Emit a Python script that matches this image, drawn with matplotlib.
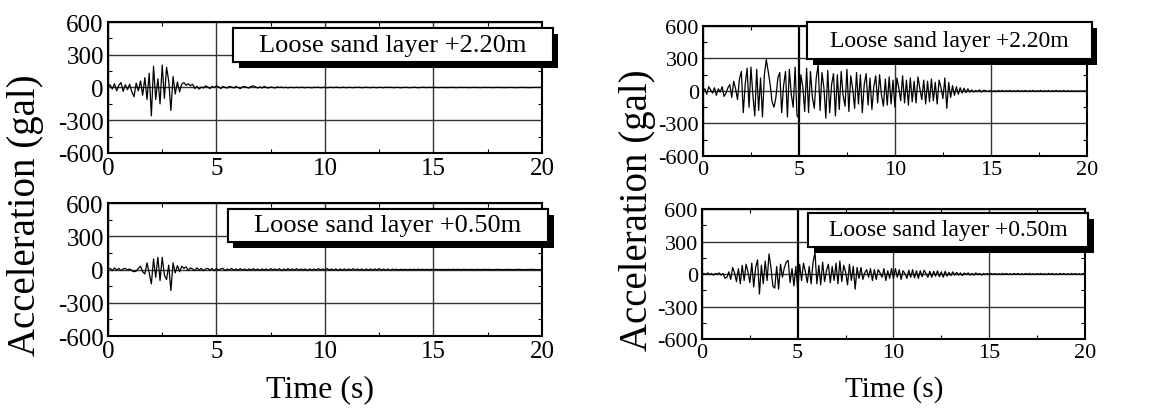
import numpy as np
import matplotlib
matplotlib.use("Agg")
import matplotlib.pyplot as plt
from matplotlib.patches import Rectangle
import matplotlib.patheffects as pe

plt.rcParams['font.family'] = ['Liberation Serif', 'DejaVu Serif']
plt.rcParams['axes.unicode_minus'] = False

# acceleration records, sampled every 0.1 s from 0 to 20 s (gal)
dt = 0.1

# left column, loose sand layer +2.20m
acc_left_top = [
    0, 25, -15, 35, -30, 20, 45, -35, 25, -20,
    30, -40, -85, 40, -30, 60, -70, 90, -110, 130,
    -260, 195, -110, 80, -150, 205, -100, 185, 60, -210,
    100, -60, 50, -40, 30, 45, 20, 35, 15, 30,
    -10, 10, -15, 5, -5, 15, 5, -10, 10, 0,
    15, 5, -10, 10, 0, -5, 10, 5, -5, 10,
    0, -10, 5, 10, 0, -5, 10, 15, 5, -5,
    5, -5, 10, 0, -5, 5, 0, -5, 5, 0,
    3, -2, 2, -3, 2, 0, -2, 3, -2, 2,
    0, -2, 2, 0, -3, 2, 0, 2, -2, 0,
    2, -2, 0, 2, -2, 3, 0, -2, 2, 0,
    -2, 2, 0, -2, 2, 0, 2, -2, 0, 2,
    0, -2, 2, 0, -2, 2, 0, -2, 2, 0,
    2, 0, -2, 2, 0, -2, 0, 2, 0, -2,
    0, 2, 0, -2, 0, 2, 0, -1, 1, 0,
    0, 1, -1, 0, 1, 0, -1, 0, 1, 0,
    0, -1, 1, 0, 0, 1, -1, 0, 0, 1,
    0, 0, -1, 1, 0, 0, 1, -1, 0, 0,
    1, 0, 0, -1, 0, 1, 0, 0, -1, 0,
    0, 1, 0, 0, -1, 0, 0, 1, 0, 0,
    0,
]

# left column, loose sand layer +0.50m
acc_left_bot = [
    0, 10, -10, 15, -5, 10, -10, 5, 10, -5,
    5, -10, -20, -15, 10, 30, -20, -40, 60, -30,
    -130, 95, -70, 110, -100, 110, -50, -90, 40, -190,
    60, -30, 35, -20, 30, 10, 25, -10, 15, 5,
    -10, 15, -5, 10, -10, 5, 10, -5, 10, -10,
    10, -5, 5, 10, -10, 5, -5, 10, -5, 5,
    -5, 8, -5, 5, -8, 5, -5, 8, -5, 5,
    -8, 5, -5, 5, -8, 8, -5, 5, -5, 8,
    -10, 5, -5, 8, -5, 5, -5, 8, -5, 5,
    -5, 5, -8, 5, -5, 5, -5, 8, -5, 5,
    -5, 8, -5, 5, -5, 5, -8, 5, -5, 5,
    -5, 5, -5, 8, -5, 5, -5, 5, -8, 5,
    -5, 5, -5, 5, -5, 8, -5, 5, -5, 5,
    -8, 3, -2, 2, -3, 2, -2, 2, -3, 2,
    -2, 2, -2, 3, -2, 2, -2, 2, -2, 2,
    -1, 1, -1, 1, -1, 1, -1, 1, -1, 1,
    -1, 1, 0, -1, 1, 0, -1, 1, 0, -1,
    1, 0, -1, 1, 0, 0, 1, -1, 0, 0,
    1, 0, -1, 0, 1, 0, 0, -1, 0, 1,
    0, 0, -1, 0, 0, 1, 0, 0, -1, 0,
    0,
]

# right column, loose sand layer +2.20m
acc_right_top = [
    0, 20, -30, 40, 10, -20, 30, -40, 20, -10,
    40, -50, -20, 30, 60, -60, 90, 20, -80, 110,
    180, -200, 60, 210, -150, 220, -40, -230, 200, -180,
    120, -240, 150, 290, 180, 60, -100, -150, -60, 120,
    170, -200, 50, 180, -240, 200, -30, -150, 220, -230,
    -250, 150, 40, -190, 210, -200, 180, -60, -160, 120,
    240, -180, 170, 30, -250, 190, -200, 60, 160, -230,
    150, -170, 180, -40, -140, 200, -190, 140, 20, -160,
    170, -120, 150, -200, 60, 160, -130, 120, -170, 40,
    140, -110, 150, -40, -140, 110, -130, 130, -120, 100,
    -150, 120, 30, -90, 140, -110, 100, -130, 120, -100,
    90, -110, 130, 20, -80, 100, -120, 90, -100, 110,
    -90, 80, -120, 100, 30, -70, 120, -160, 80, -60,
    50, -40, 40, -30, 30, -20, 25, -15, 20, -10,
    10, -10, 5, -5, 10, -10, 5, 5, -5, 0,
    5, -5, 3, -5, 5, -3, 5, -5, 3, -3,
    5, -5, 3, -3, 5, -5, 3, -3, 5, -5,
    3, -3, 5, -5, 3, -3, 5, -5, 3, -3,
    5, -5, 3, -3, 5, -5, 3, -3, 5, -5,
    3, -3, 2, -2, 0, 0, 0, 0, 0, 0,
    0,
]

# right column, loose sand layer +0.50m
acc_right_bot = [
    0, 5, -5, 10, -5, 5, -10, 5, 0, 10,
    -10, 5, -40, -30, 20, -50, 60, 10, -70, 50,
    -90, 80, -60, 90, 20, -80, 100, -120, 60, 130,
    -185, 80, -90, 120, -60, 185, 60, -110, -130, 70,
    -140, 90, -30, 60, 110, 125, -80, 50, -110, 70,
    -150, 90, -60, 100, 20, -80, 70, -90, 110, 200,
    -90, 80, -100, 110, -70, 30, 90, -80, 70, -60,
    100, -90, 120, -70, 80, 20, -100, 90, -60, 70,
    -140, 60, -40, 60, -50, 10, 40, -30, 50, -60,
    40, -50, 40, 10, -30, 50, -60, 30, -40, 50,
    -40, 50, -30, 40, -50, 30, 5, -40, 35, -30,
    40, -35, 30, -40, 30, -25, 35, 5, -30, 25,
    -30, 25, -20, 30, -25, 20, -30, 25, -20, 15,
    -15, 20, -10, 15, -10, 10, -15, 10, -5, 10,
    -10, 5, -10, 10, -5, 5, -10, 5, -5, 5,
    -5, 5, -3, 5, -5, 3, -5, 5, -3, 5,
    -5, 3, -5, 5, -3, 5, -5, 3, -5, 5,
    -3, 5, -5, 3, -5, 5, -3, 5, -5, 3,
    -5, 5, -3, 5, -5, 3, -5, 5, -3, 5,
    -5, 3, -5, 5, -3, 5, -5, 3, -5, 5,
    0,
]

labels = ['Loose sand layer +2.20m', 'Loose sand layer +0.50m']
x_ticks = [0, 5, 10, 15, 20]
y_ticks = [-600, -300, 0, 300, 600]

fig = plt.figure(figsize=(11.71, 4.10), dpi=100)

# [left, bottom, width, height], box = (x0, x1, y0, y1) in axes fraction
paneles = [
    (acc_left_top, labels[0], [0.0922, 0.6244, 0.3706, 0.3195], (0.288, 1.025, 0.695, 0.954), 18, 19),
    (acc_left_bot, labels[1], [0.0922, 0.1780, 0.3706, 0.3244], (0.276, 1.014, 0.707, 0.955), 18, 19),
    (acc_right_top, labels[0], [0.6003, 0.6171, 0.3279, 0.3171], (0.271, 1.013, 0.746, 1.030), 16, 17),
    (acc_right_bot, labels[1], [0.5995, 0.1707, 0.3270, 0.3171], (0.277, 1.008, 0.708, 0.969), 16, 17),
]

for i, (acc, texto, pos, caja, fs_tick, fs_box) in enumerate(paneles):
    ax = fig.add_axes(pos)
    t = np.arange(len(acc)) * dt
    ax.plot(t, acc, color='black', lw=0.9, zorder=3)
    ax.set_xlim(0, 20)
    ax.set_ylim(-600, 600)
    ax.set_xticks(x_ticks)
    ax.set_yticks(y_ticks)
    ax.set_xticks(np.arange(0, 20.1, 2.5), minor=True)
    ax.set_yticks(np.arange(-600, 601, 150), minor=True)
    ax.grid(True, which='major', color='0.2', lw=1.0)
    ax.tick_params(which='both', direction='in', top=True, right=True,
                   labelsize=fs_tick, pad=3)
    ax.tick_params(which='major', length=0)
    ax.tick_params(which='minor', length=3, width=0.8)
    for s in ax.spines.values():
        s.set_linewidth(1.5)
    if i >= 2:
        # darker line at 5 s on the right column
        ax.get_xgridlines()[1].set_color('black')
        ax.get_xgridlines()[1].set_linewidth(1.6)

    x0, x1, y0, y1 = caja
    rect = Rectangle((x0, y0), x1 - x0, y1 - y0, transform=ax.transAxes,
                     facecolor='white', edgecolor='black', lw=1.5,
                     clip_on=False, zorder=5)
    rect.set_path_effects([pe.withSimplePatchShadow(offset=(4, -4), shadow_rgbFace='black', alpha=1.0),
                           pe.Normal()])
    ax.add_patch(rect)
    ax.text((x0 + x1) / 2, (y0 + y1) / 2, texto, transform=ax.transAxes,
            ha='center', va='center', fontsize=fs_box, zorder=6, clip_on=False)

fig.text(0.0222, 0.4756, 'Acceleration (gal)', rotation=90, ha='center', va='center', fontsize=28)
fig.text(0.5448, 0.4880, 'Acceleration (gal)', rotation=90, ha='center', va='center', fontsize=28)
fig.text(0.273, 0.0488, 'Time (s)', ha='center', va='center', fontsize=23)
fig.text(0.764, 0.0488, 'Time (s)', ha='center', va='center', fontsize=21)

fig.savefig('out.png', dpi=100)
